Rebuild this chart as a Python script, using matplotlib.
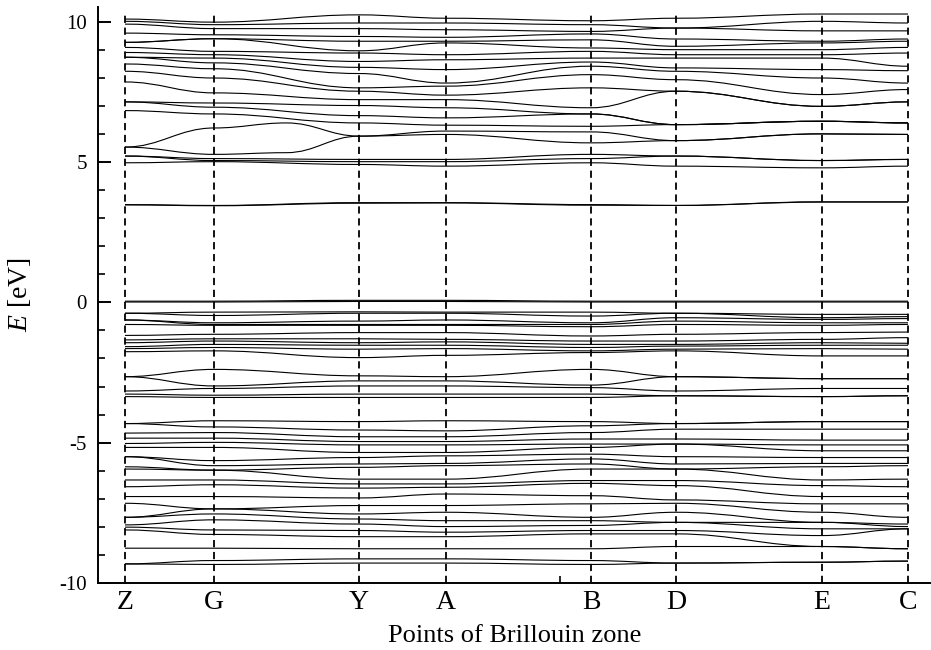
import matplotlib
matplotlib.use('Agg')
import matplotlib.pyplot as plt
from matplotlib.path import Path
from matplotlib.patches import PathPatch
from matplotlib.ticker import MultipleLocator, FixedLocator

# ---------------- data ----------------
kpoint_labels = ['Z', 'G', 'Y', 'A', 'B', 'D', 'E', 'C']
kpoint_pos = [0, 89, 234, 321, 466, 551, 697, 783]
kpath_minor_tick = [435]

# conduction bands, energies (eV) at Z, G, Y, A, B, D, E, C
bands_conduction = [
    [10.09, 9.98, 10.24, 10.12, 10.03, 10.12, 10.27, 10.27],
    [10.01, 9.89, 9.95, 9.95, 9.89, 9.77, 10.01, 9.95],
    [9.91, 9.75, 9.75, 9.71, 9.65, 9.77, 9.67, 9.67],
    [9.59, 9.53, 9.47, 9.44, 9.56, 9.38, 9.30, 9.38],
    [9.26, 9.39, 9.30, 9.30, 9.35, 9.12, 9.24, 9.30],
    [9.26, 9.39, 8.96, 9.24, 9.06, 9.00, 9.00, 9.08],
    [9.08, 8.94, 8.88, 8.82, 8.94, 8.82, 8.82, 8.88],
    [8.90, 8.82, 8.58, 8.64, 8.70, 8.70, 8.70, 8.41],
    [8.73, 8.70, 8.37, 8.29, 8.56, 8.35, 8.29, 8.25],
    [8.73, 8.53, 8.15, 7.81, 8.41, 8.23, 7.99, 7.81],
    [8.49, 8.32, 7.64, 7.70, 8.11, 7.93, 7.40, 7.58],
    [8.23, 7.99, 7.52, 7.38, 7.64, 7.52, 6.98, 7.14],
    [7.85, 7.46, 7.22, 7.22, 6.93, 7.52, 6.98, 7.14],
    [7.14, 7.10, 7.01, 6.93, 6.71, 6.33, 6.45, 6.39],
    [7.14, 6.95, 6.65, 6.57, 6.71, 6.33, 6.45, 6.39],
    [6.83, 6.71, 6.39, 6.31, 6.27, 6.33, 6.45, 6.39],
    [5.21, 5.12, 5.09, 5.09, 5.27, 5.21, 5.05, 5.09],
    [5.21, 5.05, 5.01, 5.01, 5.12, 5.21, 5.05, 5.09],
    [4.97, 5.01, 4.91, 4.85, 4.97, 4.85, 4.79, 4.85],
]

# two conduction bands with an extra point between G and Y
wavy_kpos = [0, 89, 161.5, 234, 321, 466, 551, 697, 783]
wavy_bands = [
    [5.53, 6.21, 6.39, 5.92, 6.10, 6.07, 5.76, 6.00, 5.98],
    [5.53, 5.27, 5.33, 5.92, 5.98, 5.68, 5.76, 6.00, 5.98],
]

# bands in the gap region
bands_gap = [
    [3.48, 3.45, 3.55, 3.55, 3.48, 3.45, 3.58, 3.58],
    [3.47, 3.44, 3.53, 3.54, 3.46, 3.45, 3.57, 3.57],
]

# upper valence bands
bands_valence = [
    [0.04, 0.04, 0.07, 0.07, 0.04, 0.04, 0.04, 0.04],
    [0.01, 0.01, 0.03, 0.03, 0.01, 0.01, 0.01, 0.01],
    [-0.39, -0.35, -0.34, -0.35, -0.35, -0.39, -0.43, -0.43],
    [-0.39, -0.47, -0.39, -0.39, -0.49, -0.39, -0.55, -0.51],
    [-0.63, -0.73, -0.67, -0.63, -0.73, -0.55, -0.61, -0.58],
    [-0.63, -0.79, -0.79, -0.79, -0.79, -0.67, -0.73, -0.73],
    [-0.79, -0.82, -0.82, -0.82, -0.87, -0.79, -0.82, -0.79],
    [-1.18, -1.14, -1.08, -1.08, -1.20, -1.14, -1.08, -1.06],
    [-1.34, -1.30, -1.30, -1.32, -1.38, -1.38, -1.32, -1.26],
    [-1.44, -1.38, -1.44, -1.41, -1.50, -1.50, -1.44, -1.46],
    [-1.58, -1.50, -1.53, -1.53, -1.61, -1.56, -1.53, -1.53],
    [-1.65, -1.61, -1.67, -1.65, -1.73, -1.67, -1.65, -1.67],
    [-1.76, -1.73, -1.97, -1.89, -1.79, -1.73, -1.91, -1.91],
    [-2.65, -2.39, -2.62, -2.65, -2.39, -2.65, -2.72, -2.72],
    [-2.65, -2.98, -2.80, -2.80, -2.95, -2.65, -2.72, -2.72],
    [-3.16, -3.07, -2.98, -2.98, -3.04, -3.16, -3.07, -3.07],
    [-3.27, -3.31, -3.27, -3.27, -3.27, -3.33, -3.36, -3.33],
    [-3.36, -3.39, -3.39, -3.39, -3.39, -3.33, -3.36, -3.33],
]

# deeper valence bands
bands_deep = [
    [-4.32, -4.22, -4.25, -4.22, -4.25, -4.32, -4.25, -4.25],
    [-4.32, -4.44, -4.55, -4.58, -4.40, -4.32, -4.25, -4.25],
    [-4.66, -4.64, -4.79, -4.79, -4.64, -4.52, -4.52, -4.52],
    [-4.84, -4.84, -4.96, -4.96, -4.87, -4.87, -4.91, -4.91],
    [-5.03, -4.99, -5.08, -5.08, -5.05, -5.05, -5.08, -5.08],
    [-5.17, -5.17, -5.35, -5.35, -5.17, -5.05, -5.29, -5.29],
    [-5.50, -5.64, -5.53, -5.47, -5.41, -5.50, -5.53, -5.53],
    [-5.50, -5.82, -5.76, -5.74, -5.58, -5.76, -5.74, -5.74],
    [-5.86, -5.98, -5.88, -5.82, -5.76, -5.94, -5.86, -5.82],
    [-5.94, -5.98, -6.30, -6.30, -5.94, -5.94, -6.33, -6.30],
    [-6.33, -6.33, -6.47, -6.47, -6.35, -6.35, -6.53, -6.57],
    [-6.57, -6.50, -6.62, -6.59, -6.45, -6.53, -6.92, -6.92],
    [-6.92, -6.92, -6.97, -6.83, -6.89, -7.04, -7.18, -7.18],
    [-7.16, -7.36, -7.24, -7.24, -7.18, -7.16, -7.48, -7.66],
    [-7.66, -7.36, -7.54, -7.48, -7.66, -7.48, -7.84, -7.90],
    [-7.66, -7.54, -7.72, -7.78, -7.78, -7.84, -7.84, -7.99],
    [-7.93, -7.75, -7.90, -7.99, -7.95, -7.84, -8.07, -8.07],
    [-8.01, -8.11, -8.13, -8.19, -8.13, -8.13, -8.31, -8.07],
    [-8.11, -8.27, -8.35, -8.35, -8.25, -8.25, -8.70, -8.78],
    [-8.76, -8.76, -8.78, -8.78, -8.78, -8.70, -8.70, -8.78],
    [-9.32, -9.20, -9.14, -9.14, -9.20, -9.29, -9.26, -9.22],
    [-9.32, -9.34, -9.29, -9.29, -9.34, -9.29, -9.26, -9.22],
]

y_major_ticks = [-10, -5, 0, 5, 10]

# ---------------- plot ----------------
plt.rcParams['font.family'] = ['Liberation Serif', 'DejaVu Serif']
plt.rcParams['mathtext.fontset'] = 'custom'
plt.rcParams['mathtext.rm'] = 'Liberation Serif'
plt.rcParams['mathtext.it'] = 'Liberation Serif:italic'

fig = plt.figure(figsize=(9.31, 6.5), dpi=100)
ax = fig.add_axes([98 / 931, 1 - 583 / 650, 1 - 98 / 931, (583 - 7) / 650])


def draw_band(ax, ks, es):
    """Smooth band line: cubic Bezier segments with flat tangents at k-points."""
    verts = [(ks[0], es[0])]
    codes = [Path.MOVETO]
    for i in range(len(ks) - 1):
        dx = ks[i + 1] - ks[i]
        verts += [(ks[i] + 0.4 * dx, es[i]),
                  (ks[i + 1] - 0.4 * dx, es[i + 1]),
                  (ks[i + 1], es[i + 1])]
        codes += [Path.CURVE4] * 3
    ax.add_patch(PathPatch(Path(verts, codes), fill=False,
                           edgecolor='black', lw=0.8))


for group in (bands_conduction, bands_gap, bands_valence, bands_deep):
    for b in group:
        draw_band(ax, kpoint_pos, b)
for b in wavy_bands:
    draw_band(ax, wavy_kpos, b)

for xp in kpoint_pos:
    ax.plot([xp, xp], [-10, 10.25], color='black', lw=1.3,
            linestyle=(0, (4, 2.6)))

ax.set_xlim(-27, 806)
ax.set_ylim(-10, 10.52)

ax.spines['top'].set_visible(False)
ax.spines['right'].set_visible(False)
ax.spines['left'].set_linewidth(1.4)
ax.spines['bottom'].set_linewidth(1.4)

ax.set_yticks(y_major_ticks)
ax.set_yticklabels([str(t) for t in y_major_ticks])
ax.yaxis.set_minor_locator(MultipleLocator(1))
ax.tick_params(axis='y', which='major', direction='in', length=9, width=1.4,
               labelsize=15, pad=8)
ax.tick_params(axis='y', which='minor', direction='in', length=5, width=1.2)

ax.set_xticks(kpoint_pos)
ax.set_xticklabels(kpoint_labels)
ax.xaxis.set_minor_locator(FixedLocator(kpath_minor_tick))
ax.tick_params(axis='x', which='major', length=0, labelsize=20, pad=5)
ax.tick_params(axis='x', which='minor', direction='in', length=5, width=1.2)

ax.set_xlabel('Points of Brillouin zone', fontsize=19, labelpad=7)
ax.set_ylabel(r'$E$ [eV]', fontsize=20, labelpad=19)

fig.savefig('out.png', dpi=100)
